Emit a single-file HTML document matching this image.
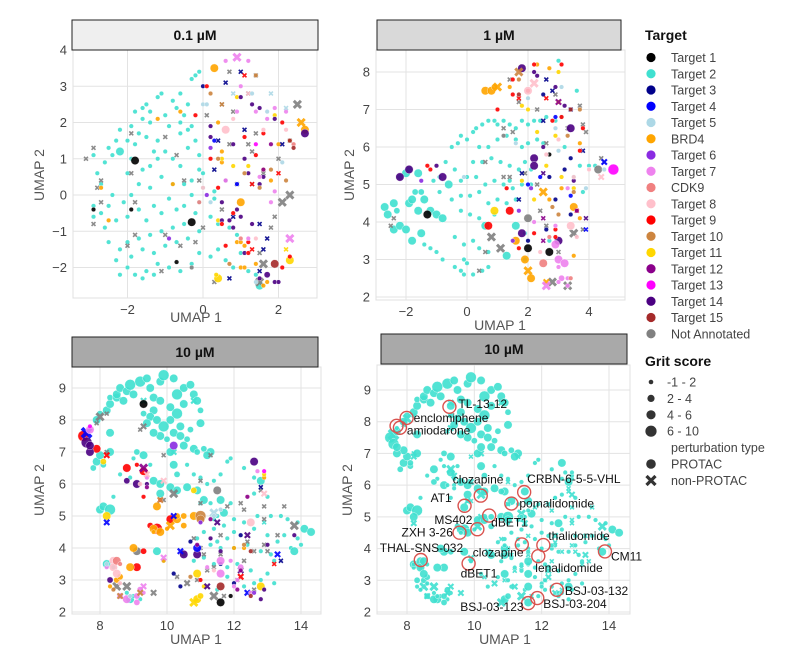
<!DOCTYPE html>
<html><head><meta charset="utf-8">
<style>
html,body{margin:0;padding:0;background:#fff;}
body{width:794px;height:661px;overflow:hidden;font-family:"Liberation Sans",sans-serif;}
svg text{font-family:"Liberation Sans","DejaVu Sans",sans-serif;}
</style></head>
<body>
<svg id="chart" width="794" height="661" viewBox="0 0 794 661" xmlns="http://www.w3.org/2000/svg"></svg>
<script>
// ---------- data ----------
const categoryNames = ["Target 1","Target 2","Target 3","Target 4","Target 5","BRD4","Target 6","Target 7","CDK9","Target 8","Target 9","Target 10","Target 11","Target 12","Target 13","Target 14","Target 15","Not Annotated"];
const categoryColors = ["#000000","#40e0d0","#00008b","#0000ff","#add8e6","#ffa500","#8a2be2","#ee82ee","#f08080","#ffc0cb","#ff0000","#cd853f","#ffd700","#8b008b","#ff00ff","#4b0082","#a52a2a","#808080"];
const gritLabels = ["-1 - 2","2 - 4","4 - 6","6 - 10"];
const p1xTicks = [-2,0,2], p1yTicks = [-2,-1,0,1,2,3,4];
const p2xTicks = [-2,0,2,4], p2yTicks = [2,3,4,5,6,7,8];
const p3xTicks = [8,10,12,14], p3yTicks = [2,3,4,5,6,7,8,9];
// [x, y, category, gritSizeIndex, markerType(0 PROTAC circle / 1 non-PROTAC cross)]
const panel1Points = [
[-2.9,1.1,1],[-2.8,0.6,1],[-2.7,0.3,1],[-2.6,0.9,1],[-2.5,1.3,1],[-2.4,1.1,1],[-2.3,1.5,1],[-2.2,1.8,1],[-2.4,0.0,1],[-2.5,-0.3,1],[-2.9,-0.3,1],[-2.9,-0.6,1],[-2.7,-0.5,1],[-2.6,-0.9,1],[-2.5,-1.3,1],[-2.3,-0.7,1],[-2.3,-1.8,1],[-2.2,-2.2,1],[-2.0,-2.0,1],[-2.0,0.6,1],[-2.2,1.2,1,2],[-2.0,1.5,1],[-1.9,1.9,1],[-1.8,2.3,1],[-1.6,2.4,1],[-1.6,2.1,1],[-1.5,2.5,1],[-1.4,2.3,1],[-1.4,2.0,1],[-1.2,2.7,1],[-1.1,2.8,1],[-1.0,2.2,1],[-0.8,2.6,1],[-0.7,2.4,1],[-0.6,2.8,1],[-0.5,2.2,1],[-0.4,2.5,1],[-0.3,3.2,1],[-0.2,3.3,1],[-0.1,3.4,1],[-0.4,1.8,1],[-0.6,1.7,1],[-0.9,1.9,1],[-1.2,1.5,1],[-1.3,1.2,1],[-1.5,1.6,1],[-1.7,1.7,1],[-1.8,1.4,1],[-1.9,1.0,1],[-1.6,0.7,1],[-1.4,0.8,1],[-1.2,1.0,1],[-1.0,1.2,1],[-0.8,1.0,1],[-0.6,0.8,1],[-0.4,1.3,1],[-0.2,1.5,1],[-0.1,1.1,1],[-0.1,0.7,1],[-0.3,0.4,1],[-0.5,0.3,1],[-0.8,0.3,1],[-1.1,0.5,1],[-1.4,0.2,1],[-1.7,0.3,1],[-1.9,0.0,1],[-2.1,-0.2,1],[-2.0,-0.6,1],[-1.7,-0.4,1],[-1.5,-0.7,1],[-1.3,-0.3,1],[-1.1,-0.5,1],[-0.9,-0.1,1],[-0.7,-0.4,1],[-0.5,-0.3,1],[-0.3,0.0,1],[-0.1,-0.2,1],[0.0,0.2,1],[-0.2,-0.5,1],[-0.5,-0.8,1],[-0.8,-0.9,1],[-1.1,-1.0,1],[-1.4,-1.1,1],[-1.7,-1.2,1],[-2.0,-1.3,1],[-2.2,-1.5,1],[-1.9,-1.7,1],[-1.6,-1.5,1],[-1.3,-1.6,1],[-1.0,-1.4,1],[-0.7,-1.3,1],[-0.4,-1.2,1],[-0.1,-1.0,1],[-0.1,-1.6,1],[-0.3,-1.9,1],[-0.6,-2.1,1],[-0.9,-2.0,1],[-1.2,-1.9,1],[-1.5,-2.1,1],[-1.8,-2.2,1],[-1.6,-2.3,1],[-1.3,-2.2,1],[0.2,-1.7,1],[0.4,-1.5,1],[0.6,-1.8,1],[0.8,-2.0,1],[1.0,-1.6,1],[0.9,-1.1,1],[0.7,-0.9,1],[0.4,-0.8,1],[0.2,-0.6,1],[1.2,-2.1,1],[1.4,-2.2,1],[1.5,-2.5,1,2],[0.3,-0.1,1],[0.3,0.1,1],[0.0,0.6,1],[-0.3,1.9,1],[-0.6,2.0,1],
[-3.1,1.0,17,0,1],[-2.9,1.3,17,0,1],[-2.8,0.2,17,0,1],[-2.7,0.4,17,0,1],[-2.9,-0.8,17,0,1],[-2.7,-0.2,17,0,1],[-2.0,-1.4,17,0,1],[-1.9,0.6,17,0,1],[-1.9,1.7,17,0,1],[-1.8,-0.2,17,0,1],[-1.8,-1.1,17,0,1],[-1.0,1.6,17,0,1],[-0.7,1.1,17,0,1],[-1.0,-1.1,17,0,1],[-1.1,-2.1,17,0,1],[-0.6,-1.4,17,0,1],[-0.2,-1.3,17,0,1],[-0.3,-2.0,17],[0.0,-0.9,17,0,1],[0.3,-2.4,17,0,1],[-0.5,0.4,17,0,1],[-0.1,0.4,17,0,1],[0.1,2.2,17,0,1],[0.5,2.5,17,0,1],[0.8,2.3,17,0,1],[0.7,1.4,17,0,1],[1.2,1.4,17,0,1],[1.4,1.7,17,0,1],[1.3,1.2,17,0,1],[1.6,0.6,17,0,1],[1.3,0.3,17,0,1],[0.9,0.3,17,0,1],[0.5,-0.4,17,0,1],[1.5,-1.6,17,0,1],[1.9,-0.6,17,0,1],[1.8,-0.9,17,0,1],[0.7,3.4,17,0,1],[1.4,3.3,17,0,1],[1.2,2.8,17,0,1],[2.0,1.0,17,0,1],[2.3,1.5,17,0,1],
[2.5,2.5,17,2,1],[2.3,0.0,17,2,1],[2.1,-0.2,17,2,1],[1.6,-1.9,17,2,1],[1.5,-2.4,17,2,1],
[-1.8,0.95,0,2],[-0.3,-0.75,0,2],[-2.9,-0.4,0],[-1.9,-0.4,0],[-0.7,-1.85,0],[0.0,3.0,2],
[0.3,3.5,5,2],[-0.6,2.3,5],[-1.2,2.1,5],[-2.7,0.2,5],[-2.5,-0.7,5],[-0.8,0.3,5],[0.4,2.0,5],[0.5,1.2,5],[0.5,0.9,5],[1.0,-0.2,5,2],[1.6,0.7,5],[1.8,0.4,5],[2.0,1.4,5],[2.3,1.5,5],[2.7,1.8,5,2],[0.9,-1.3,5],[1.0,-1.3,5],[1.1,-1.4,5],[1.0,-2.0,5],[1.1,-2.0,5],[1.4,-1.9,5],[1.6,-2.5,5],[1.7,-2.4,5],[2.6,2.0,5,2,1],
[0.4,-2.3,12,2],[0.35,-2.2,12],[2.3,-1.8,12,2],[0.4,-0.7,12],[0.8,0.8,12],[1.9,2.2,12],[2.2,-1.5,12,0,1],[0.9,2.7,12],[0.5,1.0,12],[1.2,0.8,12],
[2.7,1.7,15,2],[1.7,-2.2,15,1],[1.0,-0.6,15],[0.9,-0.4,15],[1.1,-1.6,15],[0.8,-0.9,15],[0.7,-0.7,15],[0.5,-0.7,15],[1.3,-0.8,15],[1.5,-2.3,15],[1.9,-2.4,15],[2.0,-2.4,15],[0.2,1.6,15],[0.2,1.9,15],[0.8,1.4,15],[1.1,1.0,15],[1.2,0.6,15],[1.5,0.3,15],[1.6,0.5,15],[1.3,2.5,15],[1.5,2.4,15],[1.9,2.1,15],[1.0,2.7,15],[0.6,0.4,15],[0.5,-0.2,15],
[1.0,3.4,2,0,1],[0.4,1.5,2,0,1],[0.6,3.1,2,0,1],[1.1,1.8,2,0,1],[2.1,1.4,2,0,1],[0.7,-2.3,2,0,1],[1.7,-1.2,2,0,1],[1.6,-1.5,2,0,1],[1.5,-0.8,2,0,1],[0.8,-0.6,2,0,1],[0.3,0.7,2,0,1],[1.5,-2.1,2,0,1],
[0.9,0.3,3],[0.3,1.5,3],
[-0.2,2.2,10],[0.2,1.0,10],[0.4,0.2,10],[0.6,-1.4,10],[1.6,1.7,10],[1.1,1.6,10],[2.1,2.0,10],[1.4,1.1,10],[0.5,-0.8,10],[0.8,-0.5,10],[2.3,-1.7,10],[1.2,-1.3,10],[1.2,-1.6,10],[2.1,-2.0,10],[0.1,3.0,10],[1.1,3.3,10,0,1],[1.3,0.3,10,0,1],[2.0,0.6,10,0,1],[1.3,-1.5,10,0,1],
[0.6,3.7,7],[0.9,3.8,7,2,1],[1.2,3.7,7],[1.0,3.0,7],[2.3,-1.2,7,2,1],[0.9,2.3,7],[1.4,2.3,7],[1.7,2.1,7],[1.9,2.4,7],[2.2,2.3,7],[0.6,0.4,7],[1.8,-0.2,7],[1.9,0.1,7],[1.5,0.5,7],[1.2,-1.2,7],
[0.6,1.8,9,2],[0.0,0.2,9],[1.2,2.8,9,0,1],[0.8,2.1,9],[1.4,-1.2,9],[1.6,1.8,9],[2.2,1.8,9],
[-0.1,-0.2,8],[1.0,-1.2,8],[2.4,1.4,8],
[0.0,2.5,4],[0.1,2.5,4],[0.8,2.8,4,0,1],[1.3,2.8,4],[1.8,2.8,4,0,1],[2.2,2.4,4,0,1],[0.2,-0.2,4],[1.7,2.3,4],[1.4,-2.4,4],[2.1,0.9,4],
[1.9,-1.9,16,2],[2.3,1.5,16],[2.4,1.3,16],
[0.2,2.8,11],[1.4,3.3,11],[0.5,2.5,11,0,1],[0.4,1.0,11],[1.8,0.7,11],[1.5,0.2,11],[0.7,-1.9,11],[1.1,0.6,11],[2.2,0.4,11],
[1.4,1.4,14],[1.8,1.4,13],[1.6,0.7,13],[-0.9,-1.2,6],[0.2,1.3,6],[0.1,0.0,6]
];
const panel2Points = [
[-2.7,4.4,1,2],[-2.6,4.2,1,2],[-2.4,4.5,1,2],[-2.3,4.3,1,1],[-2.4,3.8,1,2],[-2.2,3.9,1,2],[-2.0,3.8,1,2],[-1.9,4.5,1,2],[-1.8,4.6,1,2],[-1.7,4.8,1,1],[-1.6,4.3,1,2],[-1.5,4.8,1,1],[-1.4,4.6,1,2],[-1.2,4.3,1,2],[-1.0,4.2,1,2],[-0.8,4.1,1,2],[-1.8,3.5,1,2],[-1.5,3.7,1,2],[-1.4,3.4,1],[-1.2,3.3,1],[-1.0,3.2,1],[-0.8,3.0,1],[-2.0,5.3,1,2],[-1.9,5.4,1,1],[-1.6,5.3,1,2],[-2.2,5.2,1,1],[-1.1,5.1,1],[-0.9,5.2,1],[-0.7,5.6,1],[-0.5,6.0,1],[-0.3,6.1,1],[-0.2,6.3,1],[0.0,6.2,1],[0.2,6.4,1],[0.3,6.5,1],[0.5,6.6,1],[0.7,6.7,1],[0.9,6.7,1],[1.0,6.6,1],[1.2,6.7,1],[1.4,6.6,1],[1.6,6.5,1],[1.8,6.7,1],[2.0,6.6,1],[2.2,6.7,1],[2.4,6.7,1],[2.6,6.8,1],[2.9,6.7,1],[3.1,6.8,1],[1.0,6.2,1],[1.3,6.3,1],[1.6,6.2,1],[1.8,6.0,1],[2.0,6.1,1],[2.3,6.2,1],[2.5,6.1,1],[0.4,6.0,1],[0.7,6.0,1],[0.2,5.6,1],[0.5,5.6,1],[0.8,5.7,1],[1.1,5.6,1],[1.4,5.5,1],[1.7,5.4,1],[1.9,5.6,1],[2.1,5.4,1],[-0.4,5.4,1],[-0.2,5.1,1],[0.0,5.2,1],[0.3,5.2,1],[0.6,5.0,1],[0.9,5.1,1],[1.2,5.0,1],[1.5,4.9,1],[1.8,5.0,1],[2.1,5.0,1],[-0.6,5.0,1,2],[-0.9,4.8,1],[-0.5,4.6,1],[-0.2,4.7,1],[0.1,4.7,1],[0.4,4.8,1],[0.7,4.5,1],[1.0,4.6,1],[1.3,4.5,1],[1.6,4.6,1],[-0.2,4.3,1],[0.1,4.2,1],[0.4,4.1,1],[0.6,3.9,1,2],[0.9,4.2,1],[1.6,3.9,1,2],[1.9,3.7,1],[0.2,3.5,1],[0.4,3.3,1],[0.7,3.2,1],[-0.4,3.6,1],[-0.1,3.4,1],[-0.1,3.0,1],[0.0,2.9,1],[-0.4,2.8,1],[-0.1,2.6,1],[0.2,2.6,1],[0.5,2.7,1],[0.7,2.8,1],[-0.2,2.7,1],[1.3,3.1,1,2],[1.9,3.0,1],[3.5,5.2,1],[3.7,5.5,1],[3.8,4.8,1],[4.0,5.5,1],[3.2,6.0,1],[3.6,7.5,1],[3.0,8.3,1],[4.2,5.5,1],[2.7,3.5,1],[1.4,5.1,1],
[-2.5,3.9,17,0,1],[-2.4,4.1,17,0,1],[1.1,3.3,17,2,1],[0.8,3.6,17,2,1],[1.2,6.5,17,0,1],[1.5,6.4,17,0,1],[0.6,5.6,17,0,1],[1.2,5.2,17,0,1],[1.4,5.2,17,0,1],[1.9,5.3,17,0,1],[2.3,5.0,17,0,1],[2.4,4.3,17,0,1],[2.6,3.9,17,0,1],[3.0,3.2,17,0,1],[2.8,2.4,17,2,1],[3.3,2.3,17,2,1],[3.5,3.7,17,2,1],[3.8,3.8,17,0,1],[3.9,6.4,17,0,1],[3.7,7.1,17,0,1],[2.9,7.4,17,0,1],[2.3,7.0,17,0,1],[1.4,7.8,17,0,1],[1.7,7.2,17,0,1],[4.5,5.6,17,0,1],[4.4,5.7,17,0,1],[0.4,2.7,17,0,1],[0.6,3.2,17,0,1],[3.8,6.6,17,0,1],[2.6,6.1,17,0,1],[3.3,6.5,17,0,1],[4.3,5.4,17,2],[2.0,4.1,17,2],[1.2,6.3,17],
[0.6,7.5,5,2],[0.8,7.5,5,2],[0.9,7.6,5,1],[1.0,7.6,5,2,1],[1.4,7.6,5],[2.3,8.2,5],[2.7,8.1,5],[2.5,4.8,5,2,1],[3.5,4.4,5,2],[2.7,4.6,5],[3.1,4.9,5],[3.5,3.1,5],[3.7,6.1,5],[3.6,4.3,5],[2.6,2.4,5,1,1],[2.1,2.5,5,2],[1.9,3.0,5,2],[1.6,3.5,5,2],[2.0,2.7,5,2,1],[3.7,4.1,5],
[0.9,4.3,12,2],[3.5,4.9,12],[3.1,5.2,12],[2.6,5.5,12],[2.3,6.4,12],[3.0,7.2,12],[3.0,8.0,12],[2.9,6.3,12],[1.8,5.1,12],[2.2,4.6,12],[1.8,7.1,12],[2.0,7.0,12],
[-1.3,4.2,0,2],[2.0,3.3,0,2],[2.7,3.2,0,2],[2.7,5.8,0],
[-2.2,5.2,15,2],[-1.9,5.4,15,2],[-0.8,5.2,15,2],[-1.0,5.5,15],[2.2,5.7,15,2],[2.2,5.5,15,2],[3.4,6.5,15,2],[1.8,3.7,15,2],[3.0,3.5,15,2],[1.8,8.1,15,2],[2.5,6.0,15],[3.2,7.1,15],[2.9,7.6,15],[2.3,7.9,15],[2.2,8.0,15],[3.5,5.1,15],[2.5,5.3,15,0,1],[3.9,4.1,15,0,1],
[2.6,7.8,2,0,1],[2.8,7.5,2,0,1],[2.5,7.4,2],[3.4,7.0,2,0,1],[2.5,6.7,2,0,1],[3.2,5.4,2],[2.7,5.2,2],[1.7,4.6,2,0,1],[2.9,4.6,2],[3.8,5.9,2,0,1],[3.4,4.2,2],[1.8,5.3,2,0,1],[3.4,5.7,2],[2.6,3.8,2],[2.0,3.5,2],
[2.4,5.2,3],[2.0,5.0,3],[2.9,6.8,3],[3.4,4.7,3],[4.5,5.6,3,1,1],[3.9,3.8,3,0,1],
[-1.3,5.5,10],[-1.2,5.4,10],[1.4,4.3,10,2],[0.7,3.9,10,2],[1.3,4.9,10],[1.0,7.0,10],[1.5,7.4,10],[2.2,8.2,10],[2.6,7.3,10,0,1],[3.1,6.8,10],[2.8,6.7,10],[2.9,3.6,10],[3.8,6.5,10],[3.7,5.9,10],[3.6,4.3,10,0,1],[2.9,3.8,10],[1.7,3.3,10],[2.2,3.7,10],[1.5,7.8,10],[2.0,7.5,10],[3.1,8.2,10],[1.7,7.3,10,0,1],
[4.8,5.4,14,3],
[2.0,7.5,9,2],[2.2,7.7,9,2,1],[3.4,3.9,9,2],[3.6,3.6,9],[4.4,5.2,9,1,1],[3.5,5.2,9],[4.0,5.4,9],[2.6,5.8,9],[3.0,6.2,9],[2.4,3.2,9],
[3.0,3.0,7,2],[3.2,2.9,7,2],[3.0,2.8,7],[3.3,2.5,7],[3.1,2.5,7,1],[2.9,3.4,7,2],[3.0,2.4,7],[2.6,2.3,7,2,1],[3.3,2.3,7],[2.9,3.9,7],[3.3,4.9,7],[2.2,4.0,7],
[2.5,2.9,8,2],[3.4,2.5,8],[2.7,3.6,8],
[1.7,8.0,11,2,1],[1.7,7.8,11],[2.8,4.4,11],[3.0,4.2,11],[3.3,6.3,11],[3.7,7.0,11],[3.5,4.8,11],
[-0.1,5.2,4],[2.0,7.3,4],[2.9,6.5,4],[3.0,5.9,4],[3.9,4.9,4],[4.5,5.4,4],[1.6,6.1,4],[3.1,7.6,4],
[1.7,7.4,16],[3.4,7.0,16],
[3.0,7.2,13,1,1],[2.5,4.1,13,0,1],[3.6,4.3,13],[2.5,3.5,13,0,1],
[1.7,4.3,6],[1.5,3.5,6],[-1.5,5.1,6],[2.1,4.9,6]
];
const panel3Points = [
[7.8,6.5,1,1],[7.9,6.7,1,2],[8.0,6.9,1,2],[8.1,6.6,1,1],[7.9,8.0,1,2],[8.0,8.2,1,1],[8.2,8.3,1,2],[8.3,8.5,1,2],[8.3,8.7,1,1],[8.5,8.7,1,2],[8.5,8.8,1,2],[8.6,9.0,1,2],[8.7,8.6,1,2],[8.8,8.9,1,2],[8.9,9.1,1,3],[9.0,8.8,1,2],[9.2,9.2,1,3],[9.4,9.3,1,2],[9.5,9.0,1,2],[9.6,8.7,1,2],[9.8,9.2,1,2],[9.9,9.4,1,3],[10.2,9.3,1,2],[10.5,9.0,1,2],[10.3,8.8,1,3],[10.7,9.1,1,2],[10.8,8.8,1,2],[10.9,8.6,1,2],[11.0,8.3,1,1],[10.5,8.5,1,2],[10.3,8.2,1,3],[10.1,8.4,1,2],[9.8,8.6,1,2],[9.6,8.3,1,2],[9.3,8.2,1,1],[9.5,8.1,1,2],[9.7,8.0,1,2],[9.9,7.8,1,3],[10.1,8.0,1,2],[9.8,7.5,1,2],[9.6,7.6,1,2],[9.4,7.9,1,2],[10.0,7.4,1,1],[10.2,7.6,1,2],[10.4,7.5,1,2],[10.6,7.4,1,1],[10.5,7.2,1,2],[10.8,7.1,1,2],[10.9,7.0,1,1],[11.1,7.1,1,1],[11.3,7.0,1,2],[10.4,7.8,1,2],[10.7,7.7,1,1],[11.0,7.9,1,2],[11.2,6.9,1,2],[10.1,7.0,1,2],[10.2,6.6,1,2],[9.3,6.9,1,2],[9.1,7.0,1,1],[9.5,6.6,1],[8.3,7.6,1,2],[8.3,7.0,1,2],[8.6,6.3,1],[8.9,6.2,1],[8.4,5.6,1],[8.0,5.2,1,2],[8.1,5.3,1,2],[8.3,5.2,1,3],[9.0,6.8,1],[9.6,6.1,1,2],[9.8,6.0,1,2],[9.8,5.7,1,2],[10.1,5.9,1,2],[10.3,5.8,1,2],[10.3,6.3,1,1],[10.6,6.6,1],[10.8,6.3,1],[11.0,6.2,1],[10.6,5.9,1,2],[10.9,5.8,1,2],[11.1,5.5,1,2],[11.3,5.4,1],[11.6,5.5,1,2],[11.9,5.4,1],[11.7,5.1,1,2],[11.5,5.0,1],[11.0,5.4,1],[11.2,6.0,1],[11.4,6.1,1],[11.6,6.3,1],[11.8,6.7,1],[11.9,6.8,1],[12.3,6.5,1],[12.6,6.2,1],[12.8,6.1,1,2],[12.6,5.7,1],[13.0,5.6,1],[12.7,5.0,1],[13.1,5.0,1],[13.4,5.0,1],[13.6,4.9,1],[13.9,4.8,1],[14.1,4.6,1,2],[14.3,4.5,1,2],[13.9,4.3,1],[14.0,4.1,1],[13.7,4.0,1],[13.8,3.9,1,2],[13.3,4.2,1],[13.0,4.4,1],[12.6,4.6,1],[12.3,4.8,1],[12.0,4.9,1],[12.0,4.5,1],[11.8,4.3,1],[11.4,4.6,1],[11.1,4.5,1],[10.9,4.3,1],[11.3,4.1,1],[11.6,4.0,1],[12.0,4.0,1],[12.4,4.1,1],[12.8,3.9,1],[13.2,3.6,1],[13.0,3.2,1],[13.2,2.9,1],[12.8,3.0,1],[12.5,3.3,1],[12.1,3.5,1],[11.8,3.4,1],[11.4,3.5,1],[11.1,3.7,1],[10.8,3.6,1],[10.5,3.8,1],[9.7,3.9,1,2],[9.9,3.6,1],[8.2,3.5,1,2],[8.4,3.4,1],[8.8,2.6,1],[8.9,2.4,1,2],[9.0,2.5,1],[9.2,2.4,1],[11.8,3.1,1],[11.5,2.7,1],[12.3,2.8,1],[12.6,2.9,1],[13.1,3.8,1],[13.5,4.4,1],[12.9,4.8,1,0,1],[11.7,4.7,1],[11.4,4.9,1],[11.5,4.2,1],[10.2,7.0,1,1,1],[9.3,8.6,1,1,1],[10.8,8.6,1,1,1],
[8.0,8.1,17,2,1],[7.9,7.9,17,0,1],[8.2,8.2,17,0,1],[9.3,7.8,17,1,1],[9.2,7.7,17,0,1],[9.9,6.9,17,0,1],[11.3,6.9,17,0,1],[11.0,6.1,17,0,1],[10.2,5.7,17,2,1],[9.9,5.5,17,0,1],[11.0,5.4,17,0,1],[11.8,5.3,17,0,1],[12.3,5.2,17,0,1],[12.9,5.3,17,0,1],[13.5,5.3,17,0,1],[13.8,4.7,17,2,1],[12.9,4.9,17,0,1],[13.3,4.4,17,0,1],[12.9,4.1,17,0,1],[12.4,4.2,17,0,1],[12.6,3.9,17,0,1],[11.4,3.4,17,0,1],[11.6,3.8,17,0,1],[11.1,3.8,17,0,1],[10.8,4.3,17,0,1],[11.2,3.3,17,0,1],[10.3,3.1,17,0,1],[10.6,2.9,17,1,1],[10.9,3.0,17,0,1],[9.6,2.6,17,1,1],[8.8,2.8,17,2,1],[8.5,2.8,17,2,1],[9.2,2.6,17,0,1],[11.4,2.5,17,2,1],[11.7,2.5,17,0,1],[12.5,2.6,17,0,1],[12.6,2.7,17,0,1],[13.0,3.9,17,0,1],[12.8,5.8,17,0,1],[12.2,5.4,17,0,1],[11.6,4.4,17,0,1],[11.0,4.0,17,0,1],[12.3,3.6,17,0,1],[8.2,7.0,17,0,1],[12.1,3.0,17,0,1],[9.1,3.9,17,2],[11.5,5.8,17,2],
[9.3,8.5,0,2],[11.6,2.3,0,2],[11.9,2.5,0],
[7.5,7.5,10,3],[7.9,7.1,10,2],[8.2,6.9,10,1,1],[8.8,6.5,10,2],[9.1,6.6,10],[9.3,6.4,10,2],[9.3,5.6,10],[9.5,4.7,10,1],[9.7,4.6,10,3],[10.1,4.9,10,2],[9.3,3.9,10,1],[9.1,3.4,10,2],[12.2,3.1,10,1,1],[13.2,3.5,10,0,1],[11.0,3.0,10],[9.8,5.5,10],
[9.0,4.0,5,2],[8.9,3.4,5,2],[8.5,3.0,5,1],[8.3,2.8,5],[8.6,3.1,5,1],[9.6,4.6,5,2],[9.6,4.5,5],[9.8,4.5,5,2],[10.0,4.6,5],[10.1,4.7,5,2,1],[10.3,4.9,5,2],[10.3,5.0,5,1],[10.5,4.7,5,1],[10.8,5.0,5,2],[10.5,5.0,5,1],[9.7,5.3,5,2],[9.9,3.6,5],[12.0,4.0,5],[12.9,6.2,5],[12.3,4.0,5],
[8.1,6.7,12,1],[8.2,5.0,12,2],[10.8,5.8,12,1],[10.9,3.2,12,2],[10.9,2.4,12,2],[11.0,2.5,12,1],[12.8,2.8,12,2],[11.1,2.8,12],[12.9,6.3,12],[10.8,2.3,12,2,1],
[7.6,7.3,15,3],[7.7,7.0,15,2],[7.7,7.2,15,2],[8.8,6.1,15,1],[9.1,6.0,15,2],[9.4,6.0,15],[10.5,3.8,15,2],[10.9,3.8,15,2],[12.6,6.7,15,2],[8.3,3.0,15,1],[11.2,2.8,15,1,1],[12.4,4.4,15,1,1],[12.2,3.3,15,1,1],[13.8,4.4,15],[13.0,4.1,15],[11.6,3.9,15],[12.9,2.7,15],[12.8,2.4,15],[11.3,4.3,15],[11.5,4.8,15,1,1],
[7.6,7.6,3,3,1],[8.2,4.8,3,1,1],[10.4,3.9,3,1,1],[10.9,4.0,3,2],[12.4,2.6,3,1,1],[13.3,3.8,3,1,1],[10.2,5.0,3,1,1],
[12.2,4.4,2],[10.7,4.2,2],[13.4,3.6,2,0,1],[12.8,5.9,2,0,1],[11.6,3.5,2],[12.0,2.9,2],[10.4,2.8,2],[10.2,3.2,2],
[7.7,7.7,7,2],[8.2,3.4,7],[8.6,2.5,7,1],[8.8,2.4,7,2],[9.1,2.3,7,1],[9.1,2.5,7,1],[9.2,2.7,7,1],[9.3,2.6,7],[9.3,2.8,7,1,1],[9.9,3.7,7,1,1],[11.6,3.6,7,2],[11.6,3.2,7,2],[12.2,3.4,7,1],[11.2,3.4,7],[11.9,3.6,7],[12.7,6.4,7],[9.4,6.2,7],[12.0,2.8,7],[12.5,2.6,7],[12.1,3.0,7],
[8.4,3.6,9,2],[8.4,3.4,9,2],[8.5,3.2,9,2],[8.6,2.9,9],[9.4,6.3,9,1,1],[9.9,6.1,9,1,1],[9.2,6.0,9],[12.4,5.6,9],[12.9,5.7,9,1,1],[12.5,4.8,9,2],[11.4,3.3,9],
[8.5,3.6,8,2],[8.6,3.5,8],
[11.0,5.0,11,3],[11.0,4.9,11,2],[9.8,5.5,11,1,1],[9.2,2.6,11,1,1],[8.6,2.5,11,1,1],[8.4,2.7,11],[10.7,3.1,11],[12.3,4.1,11],
[11.6,2.8,16,2],[12.5,2.5,16],[12.5,3.9,16],
[9.3,6.5,13,2,1],[12.2,3.3,13],[10.9,4.1,13],[11.3,4.9,13],[12.4,5.6,13],[12.1,2.7,13],[9.4,5.9,13],
[10.2,7.2,6,2],[11.0,4.8,6],[12.6,2.6,6],
[7.7,7.8,14],[12.9,6.4,14],
[8.2,3.5,4],[11.4,5.1,4,2,1],[11.4,5.0,4],[8.9,2.5,4],[11.6,5.2,4]
];
// panel 4: same embedding, annotated compounds
const annotNames = ["TL-13-12","enclomiphene","amiodarone","amiodarone","clozapine","CRBN-6-5-5-VHL","AT1","pomalidomide","MS402","dBET1","ZXH 3-26","THAL-SNS-032","dBET1","clozapine","thalidomide","lenalidomide","CM11","BSJ-03-132","BSJ-03-204","BSJ-03-123"];
const annotX = [9.26,7.99,7.69,7.79,10.19,11.48,9.71,11.1,10.09,10.44,9.56,8.41,9.83,11.41,12.05,11.9,13.88,12.45,11.87,11.6];
const annotY = [8.47,8.12,7.87,7.81,5.67,5.78,5.35,5.42,4.61,5.04,4.5,3.64,3.53,4.13,4.11,3.76,3.91,2.7,2.44,2.28];
// label offset from circle centre (px) — layout, not data
const annotDX = [9,7,0,7,-28,3,-34,8,-43,2,-58,-41,-8,-49,5,-3,6,8,6,-68];
const annotDY = [1,4,0,7,-12,-9,-4,4,-5,11,4,-8,14,12,-5,16,9,5,10,8];

// ---------- drawing ----------
const svg = document.getElementById('chart');
const NS = 'http://www.w3.org/2000/svg';
const radii = [2.3,3.1,4.2,5.4];
function mk(tag, attrs, parent){
  const e = document.createElementNS(NS, tag);
  for (const k in attrs) e.setAttribute(k, attrs[k]);
  (parent||svg).appendChild(e);
  return e;
}
function lin(d0,d1,r0,r1){ return v => r0 + (v-d0)*(r1-r0)/(d1-d0); }

const panels = [
 {key:'p1',title:'0.1 µM',fill:'#efefef',strip:[72,20,246,30],rect:[73,50,244,248],
  sx:lin(0,2,203,278.5),sy:lin(0,4,195,50),xt:p1xTicks,yt:p1yTicks,pts:panel1Points,
  xl:[196,322],yl:[44,175]},
 {key:'p2',title:'1 µM',fill:'#d9d9d9',strip:[377,20,244,30],rect:[376,50,249,250],
  sx:lin(0,4,467,589),sy:lin(2,8,297,72),xt:p2xTicks,yt:p2yTicks,pts:panel2Points,
  xl:[500,330],yl:[354,175]},
 {key:'p3',title:'10 µM',fill:'#a9a9a9',strip:[72,337,246,30],rect:[72,367,249,247],
  sx:lin(8,14,100,301),sy:lin(2,9,612,388),xt:p3xTicks,yt:p3yTicks,pts:panel3Points,
  xl:[196,644],yl:[44,490]},
 {key:'p4',title:'10 µM',fill:'#a9a9a9',strip:[381,334,246,30],rect:[377,365,253,249],
  sx:lin(8,14,407,609),sy:lin(2,9,612,390),xt:p3xTicks,yt:p3yTicks,pts:panel3Points,
  xl:[505,644],yl:[352,490],mono:true}
];

panels.forEach(p=>{
  const g = mk('g',{});
  
  
  const [rx,ry,rw,rh] = p.rect;
  const bg = mk('rect',{x:rx,y:ry,width:rw,height:rh,fill:'#fff',stroke:'#e0e0e0','stroke-width':1},g);
  
  
  p.xt.forEach(t=>{
    const x = p.sx(t);
    const gl = mk('line',{x1:x,x2:x,y1:ry,y2:ry+rh,stroke:'#e3e3e3','stroke-width':1},g);
    
    
    const tl = mk('text',{x:x,y:ry+rh+16,'text-anchor':'middle','font-size':13,fill:'#444'},g);
    
    
    tl.textContent = t<0 ? '−'+(-t) : String(t);
  });
  p.yt.forEach(t=>{
    const y = p.sy(t);
    const gl = mk('line',{x1:rx,x2:rx+rw,y1:y,y2:y,stroke:'#e3e3e3','stroke-width':1},g);
    
    
    const tl = mk('text',{x:rx-6,y:y+4.5,'text-anchor':'end','font-size':13,fill:'#444'},g);
    
    
    tl.textContent = t<0 ? '−'+(-t) : String(t);
  });
  const [sx,sy,sw,sh] = p.strip;
  const st = mk('rect',{x:sx,y:sy,width:sw,height:sh,fill:p.fill,stroke:'#222','stroke-width':1},g);
  
  
  const stt = mk('text',{x:sx+sw/2,y:sy+20,'text-anchor':'middle','font-size':14,'font-weight':'bold',fill:'#111'},g);
  
  
  stt.textContent = p.title;
  const xa = mk('text',{x:p.xl[0],y:p.xl[1],'text-anchor':'middle','font-size':14,fill:'#555'},g);
  
  
  xa.textContent = 'UMAP 1';
  const ya = mk('text',{x:p.yl[0],y:p.yl[1],'text-anchor':'middle','font-size':14,fill:'#555',transform:`rotate(-90 ${p.yl[0]} ${p.yl[1]})`},g);
  
  
  ya.textContent = 'UMAP 2';
  const ordered = p.pts.filter(d=>d[2]===1).concat(p.pts.filter(d=>d[2]!==1));
  ordered.forEach(d=>{
    const c = p.mono ? categoryColors[1] : categoryColors[d[2]];
    const r = radii[d[3]||0];
    const x = p.sx(d[0]), y = p.sy(d[1]);
    let el;
    if (d[4]===1){
      const h = r*0.85;
      el = mk('path',{d:`M${x-h},${y-h}L${x+h},${y+h}M${x-h},${y+h}L${x+h},${y-h}`,stroke:c,'stroke-width':Math.max(1.4,r*0.7),'stroke-linecap':'butt',fill:'none',opacity:0.9},g);
    } else {
      el = mk('circle',{cx:x,cy:y,r:r,fill:c,stroke:'#fff','stroke-width':0.4,opacity:0.9},g);
    }
    
    
  });
  if (p.mono){
    annotNames.forEach((n,i)=>{
      const x = p.sx(annotX[i]), y = p.sy(annotY[i]);
      const c = mk('circle',{cx:x,cy:y,r:6.5,fill:'none',stroke:'#d9534f','stroke-width':1.4},g);
      
      
      if (annotDX[i]===0 && annotDY[i]===0) return;
      const t = mk('text',{x:x+annotDX[i],y:y+annotDY[i],'font-size':12,fill:'#111'},g);
      
      
      t.textContent = n;
    });
  }
});

// legend
const lg = mk('g',{});


const lt = mk('text',{x:645,y:40,'font-size':14,'font-weight':'bold',fill:'#111'},lg);


lt.textContent = 'Target';
categoryNames.forEach((n,i)=>{
  const y = 57.5 + i*16.25;
  const c = mk('circle',{cx:651,cy:y,r:4.6,fill:categoryColors[i]},lg);
  
  
  const t = mk('text',{x:671,y:y+4.5,'font-size':12.5,fill:'#444'},lg);
  
  
  t.textContent = n;
});
const gt = mk('text',{x:645,y:366,'font-size':14,'font-weight':'bold',fill:'#111'},lg);


gt.textContent = 'Grit score';
gritLabels.forEach((n,i)=>{
  const y = 382 + i*16.4;
  const c = mk('circle',{cx:651,cy:y,r:[2.3,3.6,4.6,5.6][i],fill:'#333'},lg);
  
  
  const t = mk('text',{x:667,y:y+4.5,'font-size':12.5,fill:'#444'},lg);
  
  
  t.textContent = n;
});
const pt = mk('text',{x:671,y:452,'font-size':12.5,fill:'#444'},lg);


pt.textContent = 'perturbation type';
const pc = mk('circle',{cx:651,cy:464,r:4.8,fill:'#333'},lg);


const ptt = mk('text',{x:671,y:468.5,'font-size':12.5,fill:'#444'},lg);


ptt.textContent = 'PROTAC';
const px = mk('path',{d:'M646.5,476L655.5,485M646.5,485L655.5,476',stroke:'#333','stroke-width':3.2,fill:'none'},lg);


const pxt = mk('text',{x:671,y:485,'font-size':12.5,fill:'#444'},lg);


pxt.textContent = 'non-PROTAC';
</script>
</body></html>
